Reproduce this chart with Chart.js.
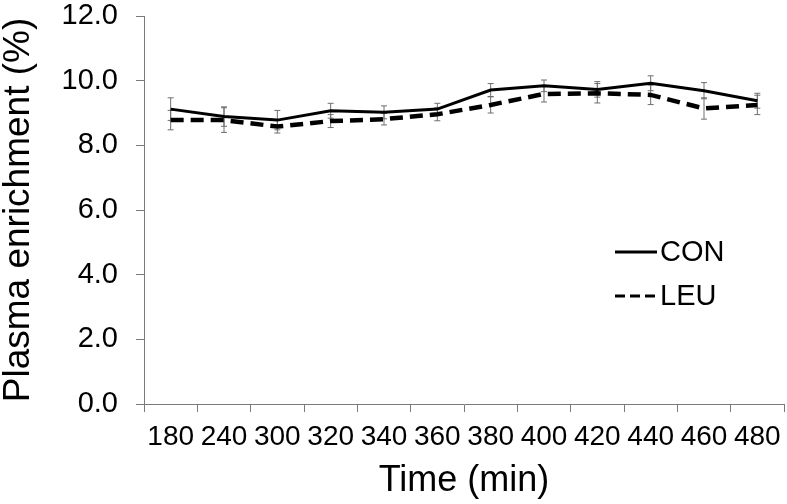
<!DOCTYPE html>
<html>
<head>
<meta charset="utf-8">
<script src="https://cdn.jsdelivr.net/npm/chart.js@4.4.1/dist/chart.umd.min.js"></script>
<style>
  html, body { margin: 0; padding: 0; background: #fff; }
  #wrap { width: 787px; height: 504px; }
</style>
</head>
<body>
<div id="wrap"><canvas id="enrichment-chart" width="787" height="504"></canvas></div>
<script>
// Tiempo (min) y enriquecimiento plasmático (%)
const timeLabels = ['180', '240', '300', '320', '340', '360', '380', '400', '420', '440', '460', '480'];
const conValues = [9.12, 8.89, 8.78, 9.07, 9.02, 9.12, 9.71, 9.84, 9.73, 9.92, 9.69, 9.38];
const leuValues = [8.78, 8.78, 8.58, 8.75, 8.81, 8.96, 9.25, 9.59, 9.61, 9.56, 9.14, 9.25];
const conErr = [0.35, 0.30, 0.30, 0.23, 0.20, 0.18, 0.20, 0.18, 0.24, 0.23, 0.25, 0.23];
const leuErr = [0.30, 0.38, 0.20, 0.20, 0.18, 0.20, 0.25, 0.25, 0.30, 0.30, 0.33, 0.30];
const yTicks = [0, 2, 4, 6, 8, 10, 12];

const FONT = 'Arial, "Liberation Sans", Helvetica, sans-serif';
const AXIS_GREY = '#7a7a7a';

// barras de error (SEM)
const errorBars = {
    id: 'errorBars',
    beforeDatasetsDraw(chart) {
        const ctx = chart.ctx;
        const y = chart.scales.y;
        ctx.save();
        ctx.strokeStyle = '#6e6e6e';
        ctx.lineWidth = 1;
        chart.data.datasets.forEach((ds, i) => {
            const meta = chart.getDatasetMeta(i);
            meta.data.forEach((pt, j) => {
                const v = ds.data[j], e = ds.errors[j];
                const top = y.getPixelForValue(v + e);
                const bot = y.getPixelForValue(v - e);
                ctx.beginPath();
                ctx.moveTo(pt.x, top); ctx.lineTo(pt.x, bot);
                ctx.moveTo(pt.x - 3, top); ctx.lineTo(pt.x + 3, top);
                ctx.moveTo(pt.x - 3, bot); ctx.lineTo(pt.x + 3, bot);
                ctx.stroke();
            });
        });
        ctx.restore();
    }
};

// leyenda dentro del área del gráfico
const insideLegend = {
    id: 'insideLegend',
    afterDraw(chart) {
        const ctx = chart.ctx;
        const x0 = 615, x1 = 657;
        const rows = [252, 296];
        ctx.save();
        ctx.font = '29px ' + FONT;
        ctx.fillStyle = '#000';
        ctx.textBaseline = 'middle';
        chart.data.datasets.forEach((ds, i) => {
            const yy = rows[i];
            ctx.beginPath();
            ctx.strokeStyle = '#000';
            ctx.lineWidth = 3;
            ctx.setLineDash(ds.borderDash && ds.borderDash.length ? [10, 5] : []);
            ctx.moveTo(x0, yy); ctx.lineTo(x1, yy);
            ctx.stroke();
            ctx.setLineDash([]);
            ctx.fillText(ds.label, 660, yy + 1);
        });
        ctx.restore();
    }
};

const ctx1 = document.getElementById('enrichment-chart').getContext('2d');
new Chart(ctx1, {
    type: 'line',
    data: {
        labels: timeLabels,
        datasets: [{
            label: 'CON',
            data: conValues,
            errors: conErr,
            borderColor: '#000',
            borderWidth: 3,
            pointRadius: 0,
            tension: 0
        }, {
            label: 'LEU',
            data: leuValues,
            errors: leuErr,
            borderColor: '#000',
            borderWidth: 4.5,
            borderDash: [13, 7],
            pointRadius: 0,
            tension: 0
        }]
    },
    options: {
        responsive: false,
        animation: false,
        layout: { padding: { top: 16, right: 3, left: 0, bottom: 0 } },
        plugins: {
            legend: { display: false },
            tooltip: { enabled: false }
        },
        scales: {
            x: {
                offset: true,
                afterFit(scale) {
                    scale.height = 100;
                    scale.paddingLeft = 0; scale.paddingRight = 0;
                },
                border: { color: AXIS_GREY, width: 1 },
                grid: { offset: true, drawOnChartArea: false, tickLength: 8, color: AXIS_GREY },
                ticks: {
                    color: '#000',
                    padding: 11,
                    maxRotation: 0,
                    autoSkip: false,
                    font: { family: FONT, size: 28, lineHeight: 1 }
                },
                title: {
                    display: true,
                    text: 'Time (min)',
                    color: '#000',
                    padding: { top: 1, bottom: 1 },
                    font: { family: FONT, size: 36 }
                }
            },
            y: {
                min: 0,
                max: 12,
                afterFit(scale) {
                    scale.width = 144;
                    scale.paddingTop = 0; scale.paddingBottom = 0;
                },
                afterBuildTicks(scale) { scale.ticks = yTicks.map(v => ({ value: v })); },
                border: { color: AXIS_GREY, width: 1 },
                grid: { drawOnChartArea: false, tickLength: 8, color: AXIS_GREY },
                ticks: {
                    color: '#000',
                    padding: 18,
                    callback: v => Number(v).toFixed(1),
                    font: { family: FONT, size: 29, lineHeight: 1 }
                },
                title: {
                    display: true,
                    text: 'Plasma enrichment (%)',
                    color: '#000',
                    padding: 0,
                    font: { family: FONT, size: 37, lineHeight: 1 }
                }
            }
        }
    },
    plugins: [errorBars, insideLegend]
});
</script>
</body>
</html>
